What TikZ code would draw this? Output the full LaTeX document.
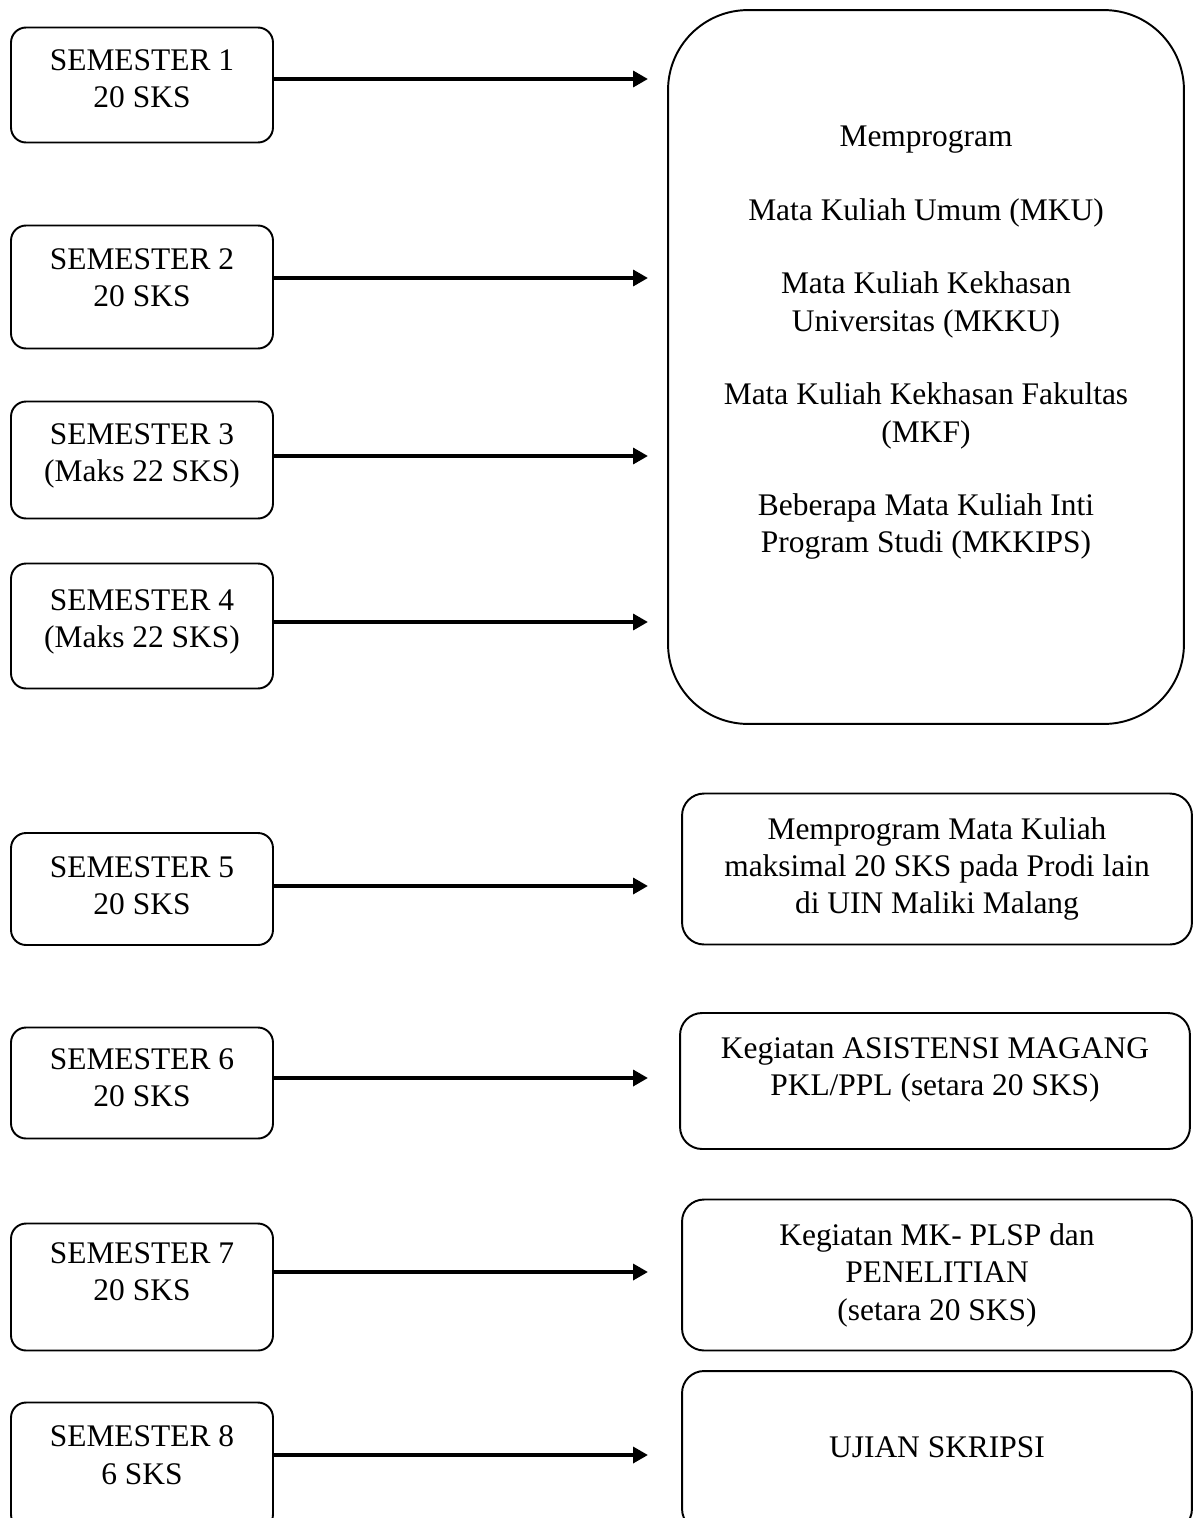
\documentclass[tikz,border=0pt]{standalone}
\usepackage{fontspec}
\setmainfont{Liberation Serif}
\usetikzlibrary{arrows.meta}

\begin{document}
\begin{tikzpicture}[x=0.02cm, y=-0.02cm,
  every node/.style={font=\fontsize{17.9}{21.3}\selectfont, align=center, inner sep=0pt},
  sembox/.style={draw, line width=1.1pt, rounded corners=0.3cm, minimum width=5.24cm},
  isibox/.style={draw, line width=1.1pt, rounded corners=0.44cm, minimum width=10.2cm},
  panah/.style={-{Triangle[length=8.5pt, width=9pt]}, line width=2.8pt}]
\useasboundingbox (0,0) rectangle (1197,1518);
% semester boxes
\node[sembox, minimum height=2.3cm] (s1) at (142,85) {};
\node (s1t) at (142,79) {SEMESTER 1\\20 SKS};
\node[sembox, minimum height=2.46cm] (s2) at (142,287) {};
\node (s2t) at (142,278) {SEMESTER 2\\20 SKS};
\node[sembox, minimum height=2.34cm] (s3) at (142,460) {};
\node (s3t) at (142,456) {SEMESTER 3\\(Maks 22 SKS)};
\node[sembox, minimum height=2.5cm] (s4) at (142,626) {};
\node (s4t) at (142,622) {SEMESTER 4\\(Maks 22 SKS)};
\node[sembox, minimum height=2.24cm] (s5) at (142,889) {};
\node (s5t) at (142,886) {SEMESTER 5\\20 SKS};
\node[sembox, minimum height=2.22cm] (s6) at (142,1083) {};
\node (s6t) at (142,1078) {SEMESTER 6\\20 SKS};
\node[sembox, minimum height=2.54cm] (s7) at (142,1287) {};
\node (s7t) at (142,1272) {SEMESTER 7\\20 SKS};
\node[sembox, minimum height=2.54cm] (s8) at (142,1466) {};
\node (s8t) at (142,1455) {SEMESTER 8\\6 SKS};
% program boxes
\node[draw, line width=1.1pt, rounded corners=1.6cm, minimum width=10.32cm, minimum height=14.28cm] (isi) at (926,367) {};
\node (isit) at (926,343) {Memprogram\\[20.5pt]
  Mata Kuliah Umum (MKU)\\[20.5pt]
  Mata Kuliah Kekhasan\\Universitas (MKKU)\\[20.5pt]
  Mata Kuliah Kekhasan Fakultas\\(MKF)\\[20.5pt]
  Beberapa Mata Kuliah Inti\\Program Studi (MKKIPS)};
\node[isibox, minimum height=3.02cm] (r5) at (937,869) {Memprogram Mata Kuliah\\maksimal 20 SKS pada Prodi lain\\di UIN Maliki Malang};
\node[isibox, minimum height=2.72cm] (r6) at (935,1081) {};
\node (r6t) at (935,1070) {Kegiatan ASISTENSI MAGANG\\PKL/PPL (setara 20 SKS)};
\node[isibox, minimum height=3.02cm] (r7) at (937,1275) {Kegiatan MK- PLSP dan\\PENELITIAN\\(setara 20 SKS)};
\node[isibox, minimum height=3.2cm] (r8) at (937,1451) {};
\node (r8t) at (937,1447) {UJIAN SKRIPSI};
% arrows
\coordinate (ujung) at (648,0);
\draw[panah] (s1.east |- s1t) -- (ujung |- s1t);
\draw[panah] (s2.east |- s2t) -- (ujung |- s2t);
\draw[panah] (s3.east |- s3t) -- (ujung |- s3t);
\draw[panah] (s4.east |- s4t) -- (ujung |- s4t);
\draw[panah] (s5.east |- s5t) -- (ujung |- s5t);
\draw[panah] (s6.east |- s6t) -- (ujung |- s6t);
\draw[panah] (s7.east |- s7t) -- (ujung |- s7t);
\draw[panah] (s8.east |- s8t) -- (ujung |- s8t);
\end{tikzpicture}
\end{document}
